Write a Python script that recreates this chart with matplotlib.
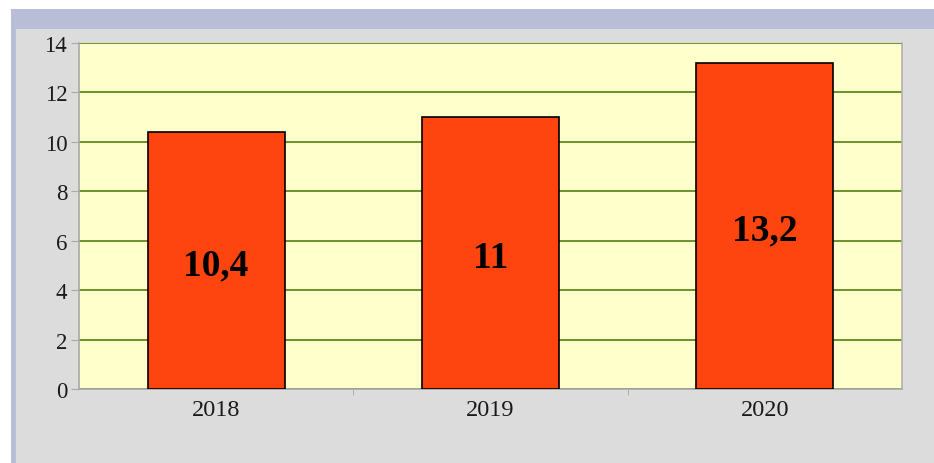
import matplotlib.pyplot as plt
from matplotlib.patches import Rectangle
import numpy as np

plt.rcParams.update({'font.family': 'Liberation Serif',
                     'font.size': 16})

years = ['2018', '2019', '2020']
values = [10.4, 11, 13.2]
labels = ['10,4', '11', '13,2']
yticks = [0, 2, 4, 6, 8, 10, 12, 14]

W, H = 934, 464
fig = plt.figure(figsize=(W / 100, H / 100), dpi=100, facecolor='white')

# window frame: blue strip and grey panel
fig.add_artist(Rectangle((11 / W, 0), 1, 1 - 10 / H, transform=fig.transFigure,
                         facecolor='#B9BDD7', edgecolor='none', zorder=0))
fig.add_artist(Rectangle((16 / W, 0), 1, 1 - 30 / H, transform=fig.transFigure,
                         facecolor='#DCDCDC', edgecolor='none', zorder=0))

ax = fig.add_axes([79 / W, 74 / H, 823 / W, 346 / H])
ax.set_facecolor('#FFFFCC')

x = np.arange(len(years))
bars = ax.bar(x, values, width=0.5, color='#FF450F', edgecolor='black',
              linewidth=1.2, zorder=3)
for xi, v, lab in zip(x, values, labels):
    ax.text(xi, v / 2, lab, ha='center', va='center_baseline', fontsize=27,
            fontweight='bold', color='black', zorder=4)

ax.set_xlim(-0.5, 2.5)
ax.set_ylim(0, 14)
ax.set_yticks(yticks)
ax.yaxis.grid(True, color='#5F8A20', linewidth=1.3, zorder=1)
ax.set_axisbelow(True)

ax.set_xticks(x)
ax.set_xticklabels(years, fontsize=17.5)
ax.set_xticks([0.5, 1.5], minor=True)
ax.tick_params(axis='x', which='major', length=0, pad=7, labelcolor='#1A1A1A')
ax.tick_params(axis='x', which='minor', length=4, color='#A8A8A8')
ax.tick_params(axis='y', length=5.5, color='#A8A8A8', pad=3,
               labelsize=16.5, labelcolor='#1A1A1A')

for s in ['left', 'bottom']:
    ax.spines[s].set_color('#A8A8A8')
    ax.spines[s].set_linewidth(1.2)
ax.spines['top'].set_visible(False)
ax.spines['right'].set_color('#B0B0B0')
ax.spines['right'].set_linestyle((0, (2, 1)))
ax.spines['right'].set_linewidth(1.2)

fig.savefig('out.png', dpi=100, facecolor='white')
